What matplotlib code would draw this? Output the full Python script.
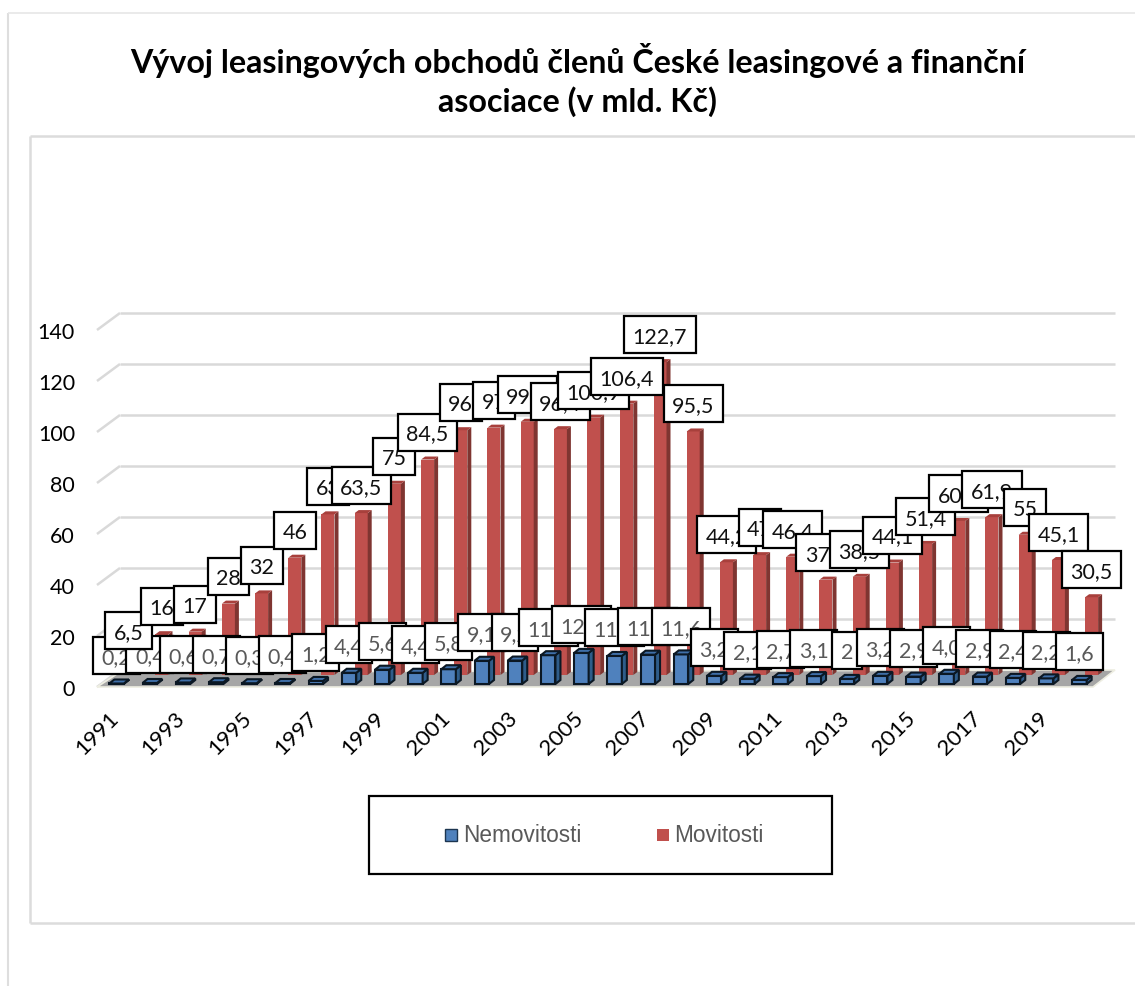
import matplotlib
matplotlib.use('Agg')
import matplotlib.pyplot as plt
from matplotlib.patches import Polygon, Rectangle

years = list(range(1991, 2021))
# label strings as printed in the chart (decimal comma)
nemovitosti = [0.2, 0.4, 0.6, 0.7, 0.3, 0.4, 1.2, 4.4, 5.6, 4.4, 5.8, 9.1, 9.2, 11.3, 12.2,
               11.0, 11.5, 11.6, 3.2, 2.1, 2.7, 3.1, 2, 3.2, 2.9, 4.0, 2.9, 2.4, 2.2, 1.6]
movitosti = [6.5, 16, 17, 28, 32, 46, 63, 63.5, 75, 84.5, 96, 97, 99.3, 96.4, 100.9,
             106.4, 122.7, 95.5, 44.2, 47, 46.4, 37.4, 38.5, 44.1, 51.4, 60.4, 61.9, 55, 45.1, 30.5]
nemovitosti_labels = ['0,2', '0,4', '0,6', '0,7', '0,3', '0,4', '1,2', '4,4', '5,6', '4,4', '5,8', '9,1', '9,2',
                      '11,3', '12,2', '11,0', '11,5', '11,6', '3,2', '2,1', '2,7', '3,1', '2', '3,2', '2,9',
                      '4,0', '2,9', '2,4', '2,2', '1,6']
movitosti_labels = ['6,5', '16', '17', '28', '32', '46', '63', '63,5', '75', '84,5', '96', '97', '99,3', '96,4',
                    '100,9', '106,4', '122,7', '95,5', '44,2', '47', '46,4', '37,4', '38,5', '44,1', '51,4',
                    '60,4', '61,9', '55', '45,1', '30,5']
y_ticks = [0, 20, 40, 60, 80, 100, 120, 140]
title = 'Vývoj leasingových obchodů členů České leasingové a finanční\nasociace (v mld. Kč)'

W, H = 1135, 987
X0, DX = 116.6, 33.2     # pixel x of first category, pixels per category
Y0, K = 671.0, 2.55      # pixel y of value 0 on the back wall, pixels per unit

plt.rcParams['font.family'] = ['Lato', 'DejaVu Sans']
fig = plt.figure(figsize=(W / 100, H / 100), dpi=100)
ax = fig.add_axes([0, 0, 1, 1])
ax.set_xlim((0 - X0) / DX, (W - X0) / DX)
ax.set_ylim((Y0 - H) / K, Y0 / K)
ax.axis('off')


def dx(p):
    return p / DX


def dy(p):
    return p / K


def px(x, y):
    # figure pixel (top left origin) to data coordinates
    return (x - X0) / DX, (Y0 - y) / K


def frame(x1, y1, x2, y2, color, lw, z=1):
    ax.plot(*zip(px(x1, y1), px(x2, y2)), color=color, lw=lw, zorder=z, solid_capstyle='butt')


# outer sheet and chart area borders
frame(7.5, 14, 7.5, 987, '#dedede', 1.5)
frame(7.5, 14, 1135, 14, '#e6e6e6', 1.2)
frame(29.5, 137, 29.5, 924, '#dcdcdc', 1.8)
frame(29.5, 137, 1135, 137, '#dcdcdc', 1.8)
frame(29.5, 924, 1135, 924, '#dcdcdc', 1.8)

# back wall gridlines and the slanted bit on the left wall
left_back, right_back = 120, 1115
for v in y_ticks:
    y = Y0 - v * K
    if v > 0:
        frame(left_back, y, right_back, y, '#d9d9d9', 1.8, z=2)
    frame(97, y + 17, left_back, y, '#d9d9d9', 1.8, z=2)
    ax.text(*px(75, y + 19), str(v), ha='right', va='center', fontsize=15.5, color='black', zorder=3)

# floor
floor = [px(97, 688), px(120, 673), px(1115, 671), px(1093, 688)]
ax.add_patch(Polygon(floor, closed=True, fc='#a6a6a6', ec='#eeeee2', lw=1.2, zorder=3))


def bar3d(i, v, base_px, off, w, depth, rise, front, side, top, edge, lw, z):
    xc = i + dx(off)
    base = dy(Y0 - base_px)
    t = base + v
    ax.bar(xc, v, width=dx(w), bottom=base, color=front, edgecolor=edge, linewidth=lw, zorder=z)
    r = xc + dx(w) / 2
    l = xc - dx(w) / 2
    ax.add_patch(Polygon([(r, base), (r + dx(depth), base + dy(rise)), (r + dx(depth), t + dy(rise)), (r, t)],
                         closed=True, fc=side, ec=edge, lw=lw, zorder=z))
    ax.add_patch(Polygon([(l, t), (l + dx(depth), t + dy(rise)), (r + dx(depth), t + dy(rise)), (r, t)],
                         closed=True, fc=top, ec=edge, lw=lw, zorder=z))


for i, v in enumerate(movitosti):
    bar3d(i, v, 676, 12.2, 13, 4, 3, '#c0504d', '#7f3531', '#a8403c', 'none', 0, 4)
for i, v in enumerate(nemovitosti):
    bar3d(i, v, 685, 0, 14.5, 5, 4, '#4f81bd', '#2f5d8a', '#3f6fa8', '#0b1824', 1.5, 5)

renderer = fig.canvas.get_renderer()
z = 10


def value_label(x, y, s, color):
    global z
    t = ax.text(x, y - dy(1.5), s, ha='center', va='center', fontsize=15.5, color=color, zorder=z + 1)
    w = t.get_window_extent(renderer).width + 17
    ax.add_patch(Rectangle((x - dx(w) / 2, y - dy(18.5)), dx(w), dy(37), fc='white', ec='black', lw=1.6, zorder=z))
    z += 2


for i, v in enumerate(nemovitosti):
    value_label(i, dy(Y0 - 685) + v + dy(28), nemovitosti_labels[i], '#595959')
for i, v in enumerate(movitosti):
    value_label(i + dx(12.2), dy(Y0 - 676) + v + dy(27.5), movitosti_labels[i], '#111111')

# every second year on the axis
for i, year in enumerate(years):
    if i % 2 == 0:
        ax.text(i - dx(19.5), px(0, 734)[1], str(year), rotation=45, ha='center', va='center',
                fontsize=16, color='black', zorder=3)

ax.text(*px(578, 80), title, ha='center', va='center', fontsize=23.2, fontweight='bold',
        color='black', linespacing=1.3, zorder=3)

# legend
lx, ly = px(369, 875)
ax.add_patch(Rectangle((lx, ly), dx(463), dy(78), fc='white', ec='black', lw=1.6, zorder=3))
ax.add_patch(Rectangle(px(445, 842), dx(12), dy(12), fc='#4f81bd', ec='#1c3550', lw=1.0, zorder=4))
ax.add_patch(Rectangle(px(657, 842), dx(12), dy(12), fc='#c0504d', ec='none', zorder=4))
ax.text(*px(463, 836), 'Nemovitosti', ha='left', va='center', fontsize=16.3, color='#595959',
        family='Liberation Sans', zorder=4)
ax.text(*px(674, 836), 'Movitosti', ha='left', va='center', fontsize=16.3, color='#595959',
        family='Liberation Sans', zorder=4)

fig.savefig('out.png', dpi=100, facecolor='white')
